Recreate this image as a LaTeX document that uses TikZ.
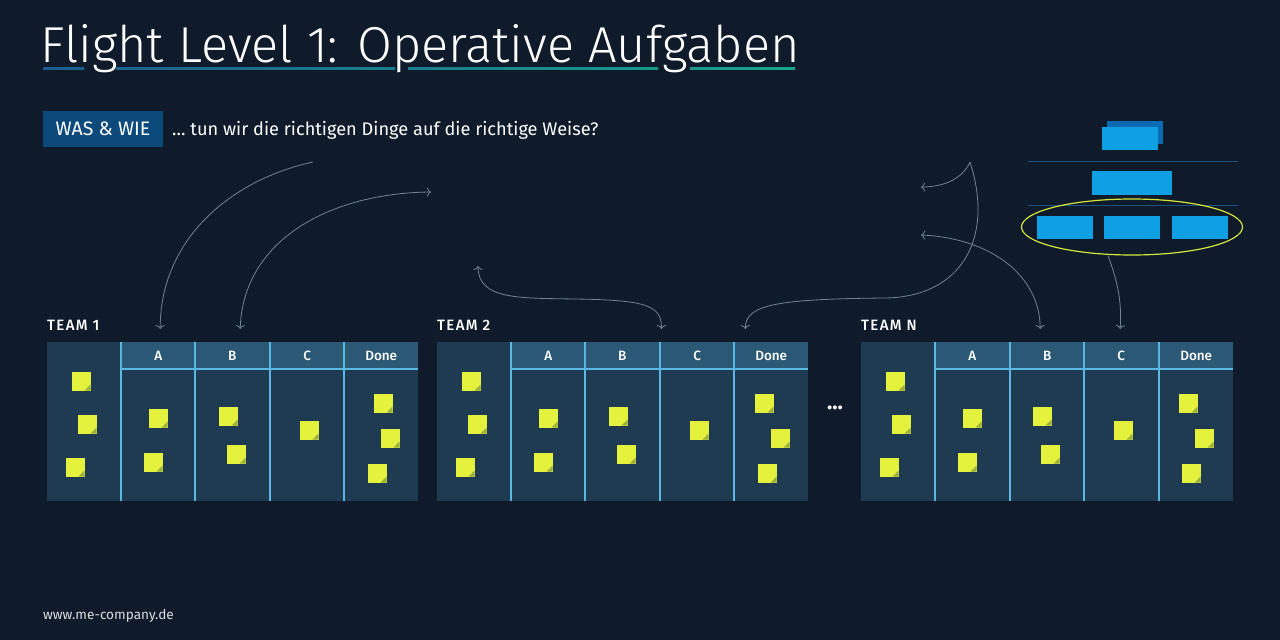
\documentclass[tikz,border=0pt]{standalone}
\usepackage{fontspec}
\setmainfont{Fira Sans}
\newfontfamily\titlefont{Fira Sans Light}
\newfontfamily\medfont{Fira Sans Medium}
\usetikzlibrary{shapes.geometric,arrows.meta}

\definecolor{bgnavy}{HTML}{0F1B2B}
\definecolor{boardbody}{HTML}{1F3B52}
\definecolor{headfill}{HTML}{2B5874}
\definecolor{gridblue}{HTML}{5AB6E2}
\definecolor{stickyyellow}{HTML}{E5F23D}
\definecolor{stickyfold}{HTML}{9DAF3C}
\definecolor{flowgray}{HTML}{708396}
\definecolor{orgblue}{HTML}{0FA0E4}
\definecolor{orgdark}{HTML}{0B6BB2}
\definecolor{orgline}{HTML}{1B4F80}
\definecolor{ellgreen}{HTML}{D3E63B}
\definecolor{waswie}{HTML}{0D4A7C}
\definecolor{ulblue}{HTML}{1B5C90}
\definecolor{ulteal}{HTML}{17A58A}

\tikzset{
  colhead/.style={anchor=north west,fill=headfill,text=white,minimum width=74pt,minimum height=27pt,inner sep=0pt,font=\medfont\fontsize{13.5}{15}\selectfont},
  teamlabel/.style={anchor=west,text=white,inner sep=0pt,font=\medfont\fontsize{15}{17}\selectfont\addfontfeatures{LetterSpace=9}},
  gridline/.style={draw=gridblue,line width=1.5pt},
  sticky/.style={rectangle,minimum size=19pt,inner sep=0pt,fill=stickyyellow,
    path picture={\fill[stickyfold] ([xshift=-6pt]path picture bounding box.south east) -- ++(6pt,6pt) -- ++(0pt,-6pt) -- cycle;}},
  orgbox/.style={rectangle,fill=orgblue,minimum width=56pt,minimum height=23pt,inner sep=0pt},
  flow/.style={draw=flowgray,line width=0.8pt,-{To[length=4pt,width=9pt]}},
  twoway/.style={{To[length=4pt,width=9pt]}-{To[length=4pt,width=9pt]}}
}

\begin{document}
\begin{tikzpicture}[x=1pt,y=-1pt]
  \fill[bgnavy] (0,0) rectangle (1280,640);
  \useasboundingbox (0,0) rectangle (1280,640);

  % Titel
  \node[anchor=base west,text=white,inner sep=0pt,font=\titlefont\fontsize{50.5}{60}\selectfont] (title) at (40,62) {Flight Level 1: Operative Aufgaben};
  \shade[left color=ulblue,right color=ulteal!5!ulblue] (43,67) rectangle (84,69);
  \shade[left color=ulteal!10!ulblue,right color=ulteal!47!ulblue] (116,67) rectangle (395,69);
  \shade[left color=ulteal!48!ulblue,right color=ulteal!82!ulblue] (408,67) rectangle (658,69);
  \shade[left color=ulteal!86!ulblue,right color=ulteal] (690,67) rectangle (795,69);

  \node[fill=waswie,text=white,minimum width=120pt,minimum height=36pt,inner sep=0pt,font=\fontsize{19.5}{22}\selectfont] (waswie) at (103,129) {WAS \& WIE};
  \node[anchor=west,text=white,inner sep=0pt,font=\fontsize{18.2}{21}\selectfont] (frage) at (172,130) {\ldots{} tun wir die richtigen Dinge auf die richtige Weise?};

  % Organigramm
  \fill[orgdark] (1107,121) rectangle (1163,144);
  \node[orgbox,anchor=north west] (orgtop) at (1102,127) {};
  \draw[orgline,line width=1pt] (1028,161) -- (1238,161) (1028,205) -- (1238,205);
  \node[orgbox,minimum width=80pt,minimum height=24pt,anchor=north west] (orgmid) at (1092,171) {};
  \node[orgbox,anchor=north west] (orgt1) at (1037,216) {};
  \node[orgbox,anchor=north west] (orgt2) at (1104,216) {};
  \node[orgbox,anchor=north west] (orgt3) at (1172,216) {};
  \node[ellipse,draw=ellgreen,line width=1.2pt,minimum width=221pt,minimum height=56pt] (teamlevel) at (1132,227) {};

  % Team 1
  \node[teamlabel] (team1) at (47,325) {TEAM 1};
  \fill[boardbody] (47,342) rectangle (418,501);
  \path (121,342) node[colhead] (t1A) {A} ++(74,0) node[colhead] (t1B) {B}
    ++(75,0) node[colhead] (t1C) {C} ++(74,0) node[colhead] (t1D) {Done};
  \draw[gridline] (121,369) -- (418,369) (121,342) -- (121,501) (195,342) -- (195,501)
    (270,342) -- (270,501) (344,342) -- (344,501);
  \path (81,381) node[sticky] (t1s1) {} (87,424) node[sticky] (t1s2) {} (75,467) node[sticky] (t1s3) {}
    (158,418) node[sticky] (t1s4) {} (153,462) node[sticky] (t1s5) {}
    (228,416) node[sticky] (t1s6) {} (236,454) node[sticky] (t1s7) {}
    (309,430) node[sticky] (t1s8) {}
    (383,403) node[sticky] (t1s9) {} (390,438) node[sticky] (t1s10) {} (377,473) node[sticky] (t1s11) {};

  % Team 2
  \node[teamlabel] (team2) at (437,325) {TEAM 2};
  \fill[boardbody] (437,342) rectangle (808,501);
  \path (511,342) node[colhead] (t2A) {A} ++(74,0) node[colhead] (t2B) {B}
    ++(75,0) node[colhead] (t2C) {C} ++(74,0) node[colhead] (t2D) {Done};
  \draw[gridline] (511,369) -- (808,369) (511,342) -- (511,501) (585,342) -- (585,501)
    (660,342) -- (660,501) (734,342) -- (734,501);
  \path (471,381) node[sticky] (t2s1) {} (477,424) node[sticky] (t2s2) {} (465,467) node[sticky] (t2s3) {}
    (548,418) node[sticky] (t2s4) {} (543,462) node[sticky] (t2s5) {}
    (618,416) node[sticky] (t2s6) {} (626,454) node[sticky] (t2s7) {}
    (699,430) node[sticky] (t2s8) {}
    (764,403) node[sticky] (t2s9) {} (780,438) node[sticky] (t2s10) {} (767,473) node[sticky] (t2s11) {};

  \node[text=white,inner sep=0pt,font=\bfseries\fontsize{22}{24}\selectfont] (dots) at (835,408) {...};

  % Team N
  \node[teamlabel] (teamN) at (861,325) {TEAM N};
  \fill[boardbody] (861,342) rectangle (1233,501);
  \path (935,342) node[colhead] (tnA) {A} ++(75,0) node[colhead] (tnB) {B}
    ++(74,0) node[colhead] (tnC) {C} ++(75,0) node[colhead] (tnD) {Done};
  \draw[gridline] (935,369) -- (1233,369) (935,342) -- (935,501) (1010,342) -- (1010,501)
    (1084,342) -- (1084,501) (1159,342) -- (1159,501);
  \path (895,381) node[sticky] (tns1) {} (901,424) node[sticky] (tns2) {} (889,467) node[sticky] (tns3) {}
    (972,418) node[sticky] (tns4) {} (967,462) node[sticky] (tns5) {}
    (1042,416) node[sticky] (tns6) {} (1050,454) node[sticky] (tns7) {}
    (1123,430) node[sticky] (tns8) {}
    (1188,403) node[sticky] (tns9) {} (1204,438) node[sticky] (tns10) {} (1191,473) node[sticky] (tns11) {};

  % Pfeile
  \coordinate (f1) at (313,162);
  \coordinate (f2) at (431,192);
  \coordinate (f3) at (478,266);
  \coordinate (f4) at (970,162);
  \coordinate (f5) at (921,187);
  \coordinate (f6) at (921,235);
  \draw[flow] (f1) .. controls (230,180) and (160,240) .. ([xshift=2pt,yshift=13pt]t1A.north);
  \draw[flow,twoway] (f2) .. controls (330,193) and (243,240) .. ([xshift=8pt,yshift=13pt]t1B.north);
  \draw[flow,twoway] (f3) .. controls (478,300) and (520,298) .. (575,299) .. controls (645,300) and (662,305) .. ([xshift=2pt,yshift=13pt]t2B.north east);
  \draw[flow] (f4) .. controls (995,240) and (960,297) .. (885,298) .. controls (775,299) and (745,305) .. ([xshift=11pt,yshift=13pt]t2C.north east);
  \draw[flow] (f4) .. controls (962,180) and (942,187) .. (f5);
  \draw[flow,twoway] (f6) .. controls (990,238) and (1040,275) .. ([xshift=-7pt,yshift=13pt]tnB.north);
  \draw[flow] ([xshift=-24pt]teamlevel.south) .. controls (1117,280) and (1122,300) .. ([xshift=-1pt,yshift=13pt]tnC.north);

  \node[anchor=west,text=white!85!bgnavy,inner sep=0pt,font=\fontsize{13.6}{16}\selectfont] (web) at (43,616) {www.me-company.de};
\end{tikzpicture}
\end{document}
